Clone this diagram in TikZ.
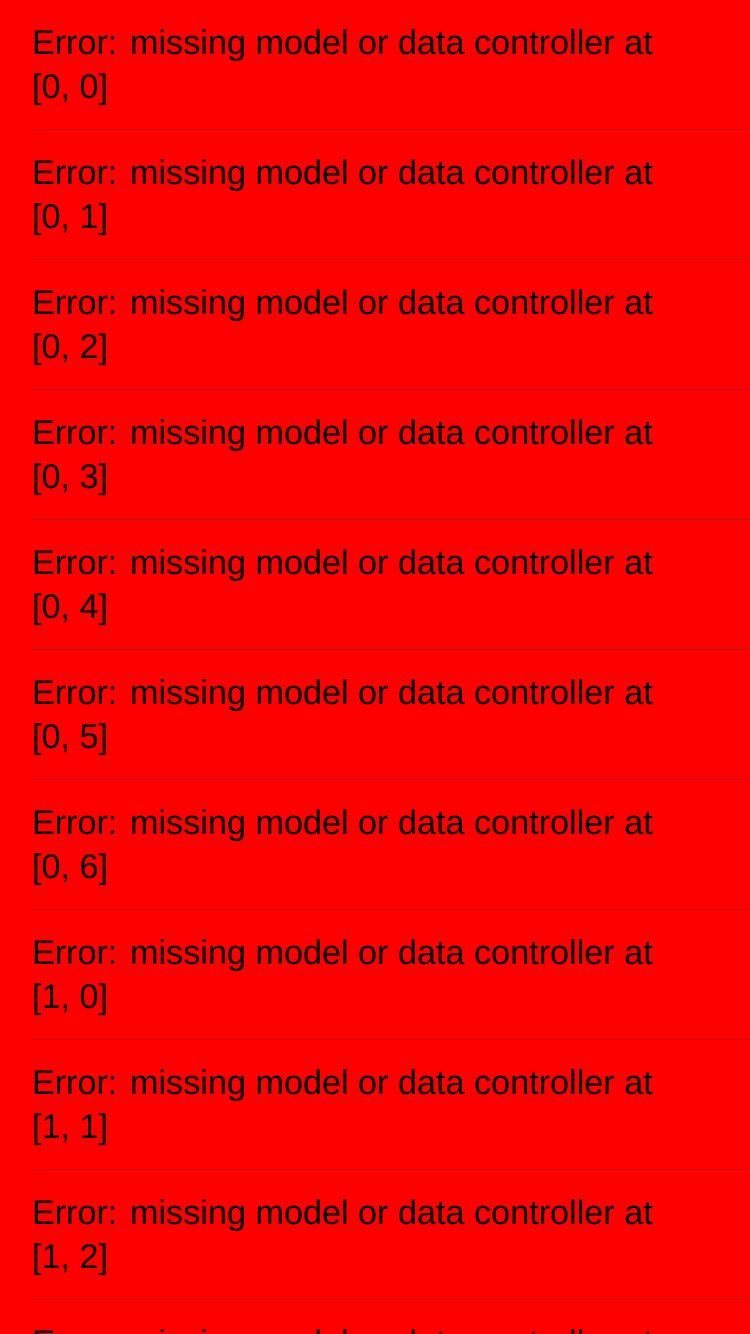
\documentclass[tikz,border=0pt]{standalone}
\usepackage{fontspec}
\setmainfont{Liberation Sans}
\definecolor{bgred}{RGB}{255,0,0}
\definecolor{seprule}{RGB}{198,17,19}
\begin{document}
\begin{tikzpicture}[x=1pt,y=-1pt,
  msg/.style={anchor=base west,inner sep=0pt,outer sep=0pt,text=black,font=\fontsize{34.2}{40}\selectfont},
  sepline/.style={draw=seprule,line width=1pt}]
\path[fill=bgred] (0,0) rectangle (750,1334);
\useasboundingbox (0,0) rectangle (750,1334);
\clip (0,0) rectangle (750,1334);
\foreach \k/\lab in {0/{0, 0},1/{0, 1},2/{0, 2},3/{0, 3},4/{0, 4},5/{0, 5},6/{0, 6},7/{1, 0},8/{1, 1},9/{1, 2}}{
  \node[msg] (t\k) at (32,54+130*\k) {Error: missing model or data controller at};
  \node[msg] (i\k) at (32,98+130*\k) {[\lab]};
  \coordinate (sa\k) at (31,129.5+130*\k);
  \coordinate (sb\k) at (750,129.5+130*\k);
  \draw[sepline] (sa\k) -- (sb\k);
}
\node[msg] (t10) at (32,1354) {Error: missing model or data controller at};
\end{tikzpicture}
\end{document}
